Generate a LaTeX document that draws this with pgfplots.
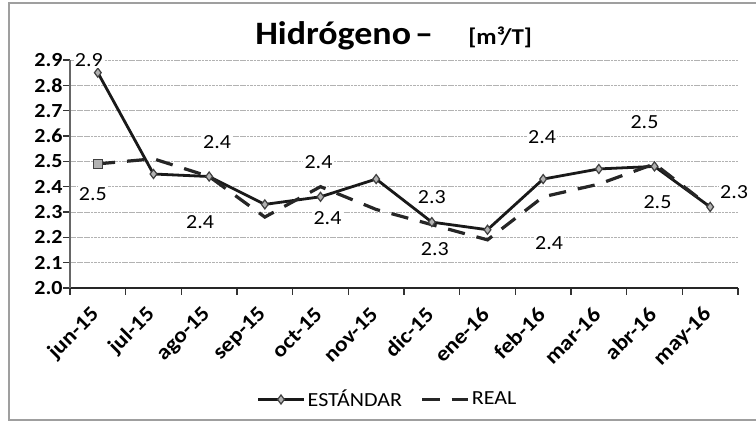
\documentclass[border=0pt]{standalone}
\usepackage{fontspec}
\setmainfont{Carlito}[FakeStretch=1.1]
\usepackage{pgfplots}
\usepackage{pgfplotstable}
\pgfplotsset{compat=1.18}
\pgfplotsset{
  estleg/.style={legend image code/.code={\draw[##1, mark repeat=2, mark phase=2] plot coordinates {(0pt,0pt) (17pt,0pt) (34pt,0pt)};}},
  realleg/.style={legend image code/.code={\draw[##1, mark=none] (0pt,0pt) -- (34pt,0pt);}},
}

\pgfplotstableread{
x y
0 2.85
1 2.45
2 2.44
3 2.33
4 2.36
5 2.43
6 2.26
7 2.23
8 2.43
9 2.47
10 2.48
11 2.32
}\estandar

\pgfplotstableread{
x y
0 2.49
1 2.51
2 2.44
3 2.28
4 2.40
5 2.31
6 2.25
7 2.19
8 2.36
9 2.41
10 2.49
11 2.32
}\real

\pgfplotstableread{
x y lab dx dy
0 2.85 2.9 -6.75 9.3
2 2.44 2.4 6 25.6
4 2.36 2.4 -1.5 25.8
6 2.26 2.3 0 18.5
8 2.43 2.4 -0.75 31.3
10 2.48 2.5 -7.5 33
}\estlab

\pgfplotstableread{
x y lab dx dy
0 2.49 2.5 -3.75 -22.5
2 2.44 2.4 -6.75 -34.5
4 2.40 2.4 5.25 -23.8
6 2.25 2.3 2.25 -18
8 2.36 2.4 4.5 -35
10 2.49 2.5 2.25 -28.9
11 2.32 2.3 18 10.9
}\reallab

\begin{document}
\begin{tikzpicture}
\useasboundingbox (0,0) rectangle (567pt,317.25pt);
\draw[gray!75, line width=1.4pt] (567.5pt,315pt) -- (6.75pt,315pt) -- (6.75pt,2.25pt) -- (567.5pt,2.25pt);
\node[anchor=base west, inner sep=0pt, font=\bfseries\fontsize{24.5}{28}\selectfont] at (191.25pt,283.5pt) {Hidrógeno\kern3pt–};
\node[anchor=base west, inner sep=0pt, font=\bfseries\fontsize{17}{19}\selectfont] at (351pt,283.5pt) {[m³/T]};
\begin{axis}[
  at={(52.5pt,101.25pt)}, anchor=south west,
  scale only axis, width=501pt, height=171pt,
  xmin=-0.5, xmax=11.5, ymin=2.0, ymax=2.9,
  axis x line=bottom, axis y line=left,
  axis line style={-},
  x axis line style={black!85, line width=1.2pt},
  y axis line style={black!60, line width=1.6pt},
  tick align=outside,
  xtick={0,...,11},
  xticklabels={jun-15,jul-15,ago-15,sep-15,oct-15,nov-15,dic-15,ene-16,feb-16,mar-16,abr-16,may-16},
  major x tick style={draw=none},
  minor xtick={-0.5,0.5,...,11.5},
  minor x tick style={black!80, line width=1.2pt},
  minor tick length=5pt,
  ytick={2.0,2.1,2.2,2.3,2.4,2.5,2.6,2.7,2.8,2.9},
  major y tick style={black!80, line width=1.2pt},
  major tick length=5pt,
  ymajorgrids,
  grid style={gray!60, line width=0.7pt, dash pattern=on 2pt off 0.6pt},
  /pgf/number format/.cd, fixed, fixed zerofill, precision=1, assume math mode=true,
  /pgfplots/.cd,
  yticklabel style={font=\bfseries\fontsize{15}{17}\selectfont, xshift=3pt},
  xticklabel style={font=\bfseries\fontsize{16}{18}\selectfont, yshift=-10pt, xshift=1pt, rotate=45, anchor=east},
  legend style={at={(0.476,-0.489)}, anchor=center, draw=none, fill=none,
    legend columns=2, font=\fontsize{15}{17}\selectfont,
    /tikz/every even column/.append style={column sep=12pt}},
  clip=false,
]
\addplot[black!90, line width=2.1pt, mark=diamond*, mark size=3.4pt,
  mark options={fill=gray!60, draw=black!75, line width=0.9pt}, estleg]
  table[x=x,y=y] {\estandar};
\addlegendentry{ESTÁNDAR}
\addplot[black!85, line width=2.4pt, dash pattern=on 13pt off 9pt, mark=square*, mark indices={1}, mark size=3.4pt,
  mark options={solid, fill=gray!60, draw=black!75, line width=0.9pt}, realleg]
  table[x=x,y=y] {\real};
\addlegendentry{REAL}
\addplot[draw=none, mark=none, forget plot, nodes near coords, point meta=explicit symbolic,
  visualization depends on={\thisrow{dx}\as\dx},
  visualization depends on={\thisrow{dy}\as\dy},
  every node near coord/.append style={anchor=center, xshift=\dx pt, yshift=\dy pt, fill=white, inner sep=1pt, font=\fontsize{15}{17}\selectfont}]
  table[x=x,y=y,meta=lab] {\estlab};
\addplot[draw=none, mark=none, forget plot, nodes near coords, point meta=explicit symbolic,
  visualization depends on={\thisrow{dx}\as\dx},
  visualization depends on={\thisrow{dy}\as\dy},
  every node near coord/.append style={anchor=center, xshift=\dx pt, yshift=\dy pt, fill=white, inner sep=1pt, font=\fontsize{15}{17}\selectfont}]
  table[x=x,y=y,meta=lab] {\reallab};
\end{axis}
\end{tikzpicture}
\end{document}
